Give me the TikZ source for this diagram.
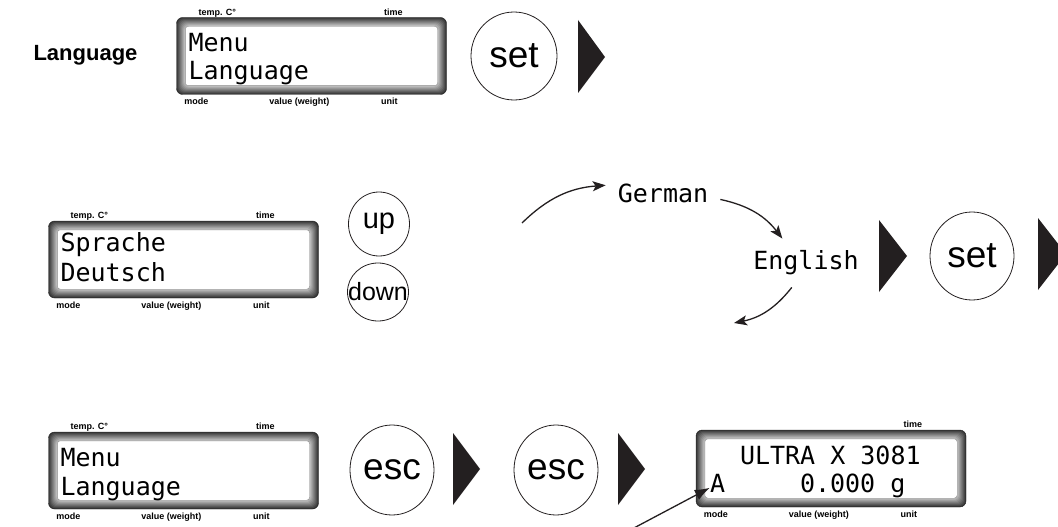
\documentclass[tikz,border=0pt]{standalone}
\usepackage{fontspec}
\setsansfont{Liberation Sans}
\newfontfamily\lcdfont{DejaVu Sans Mono}
\usetikzlibrary{arrows.meta,positioning,calc,shapes.geometric}
\definecolor{ink}{HTML}{231F20}

\begin{document}
\begin{tikzpicture}[x=1pt,y=-1pt,>={Stealth[length=13pt,width=10pt,inset=3pt]},
    lcd/.style={draw=black!85,fill=black!80,rounded corners=6pt,minimum width=270pt,minimum height=77pt,inner sep=0pt},
    lcdtext/.style={font=\lcdfont\fontsize{25}{25}\selectfont,inner sep=0pt,anchor=base west},
    tag/.style={font=\sffamily\bfseries\fontsize{9}{9}\selectfont,inner sep=0pt,anchor=base},
    btn/.style={draw=ink,line width=0.8pt,ellipse,inner sep=0pt,font=\sffamily\fontsize{37}{37}\selectfont},
    word/.style={font=\lcdfont\fontsize{25}{25}\selectfont,inner sep=12pt},
    flow/.style={->,line width=1.3pt,draw=ink}]
    \clip (0,0) rectangle (1058,527);
    \node[font=\sffamily\bfseries\fontsize{22}{22}\selectfont,inner sep=0pt] (title) at (85.5,55) {Language};
    \node[lcd] (d1) at (311.5,56) {};
    \node[lcd] (d2) at (183.5,259.5) {};
    \node[lcd] (d3) at (183.5,470.5) {};
    \node[lcd] (d4) at (831,468.5) {};
    \foreach \d in {d1,d2,d3,d4}{
      \foreach \k in {1,...,8}{
        \pgfmathtruncatemacro\shade{80-7*\k}
        \fill[black!\shade,rounded corners=6pt] ([shift={(\k pt,-\k pt)}]\d.north west) rectangle ([shift={(-\k pt,\k pt)}]\d.south east);
      }
      \filldraw[fill=white,draw=black!45,rounded corners=3pt] ([shift={(9pt,-9pt)}]\d.north west) rectangle ([shift={(-9pt,9pt)}]\d.south east);
      \node[tag] (\d-ti) at ([shift={(217pt,2pt)}]\d.north west) {time};
      \node[tag] (\d-mo) at ([shift={(20pt,-10pt)}]\d.south west) {mode};
      \node[tag] (\d-va) at ([shift={(123pt,-10pt)}]\d.south west) {value (weight)};
      \node[tag] (\d-un) at ([shift={(213pt,-10pt)}]\d.south west) {unit};
    }
    \foreach \d in {d1,d2,d3}
      \node[tag] (\d-tc) at ([shift={(41pt,2pt)}]\d.north west) {temp. C°};
    \node[lcdtext] (d1a) at ([shift={(12pt,-34pt)}]d1.north west) {Menu};
    \node[lcdtext] (d1b) at ([shift={(12pt,-62pt)}]d1.north west) {Language};
    \node[lcdtext] (d2a) at ([shift={(12pt,-31pt)}]d2.north west) {Sprache};
    \node[lcdtext] (d2b) at ([shift={(12pt,-61pt)}]d2.north west) {Deutsch};
    \node[lcdtext] (d3a) at ([shift={(12pt,-35pt)}]d3.north west) {Menu};
    \node[lcdtext] (d3b) at ([shift={(12pt,-64pt)}]d3.north west) {Language};
    \node[lcdtext] (d4a) at ([shift={(44pt,-35pt)}]d4.north west) {ULTRA X 3081};
    \node[lcdtext] (d4m) at ([shift={(14pt,-63pt)}]d4.north west) {A};
    \node[lcdtext] (d4w) at ([shift={(104pt,-63pt)}]d4.north west) {0.000 g};
    \node[btn,minimum width=86pt,minimum height=88pt] (set1) at (514,56) {set};
    \node[btn,font=\sffamily\fontsize{29}{29}\selectfont,minimum width=61pt,minimum height=64pt] (up) at (379,224) {up};
    \node[btn,font=\sffamily\fontsize{25}{25}\selectfont,minimum width=61pt,minimum height=58pt] (down) at (378,292) {\makebox[40pt]{down}};
    \node[btn,minimum width=84pt,minimum height=88pt] (set2) at (972,256) {set};
    \node[btn,minimum width=84pt,minimum height=90pt] (esc1) at (392,470) {esc};
    \node[btn,minimum width=84pt,minimum height=90pt] (esc2) at (556,470) {esc};
    \fill[ink] (578,20) -- (605,57) -- (578,93) -- cycle;
    \fill[ink] (879,220) -- (907,256) -- (879,292) -- cycle;
    \fill[ink] (1038,218) -- (1066,254) -- (1038,290) -- cycle;
    \fill[ink] (453,433) -- (480,469) -- (453,505) -- cycle;
    \fill[ink] (618,433) -- (645,469) -- (618,505) -- cycle;
    \node[word] (german) at (663,193.5) {German};
    \node[word] (english) at (806,263) {English};
    \coordinate (cin) at (522,223);
    \coordinate (cout) at (734,323);
    \coordinate (tail) at (632,529);
    \draw[flow] (cin) to[bend left=20] (german);
    \draw[flow] (german) to[bend left=20] (english);
    \draw[flow] (english) to[bend left=20] (cout);
    \draw[-{Latex[length=15pt,width=11pt]},line width=1.3pt,draw=ink] (tail) -- (d4m);
  \end{tikzpicture}
\end{document}
